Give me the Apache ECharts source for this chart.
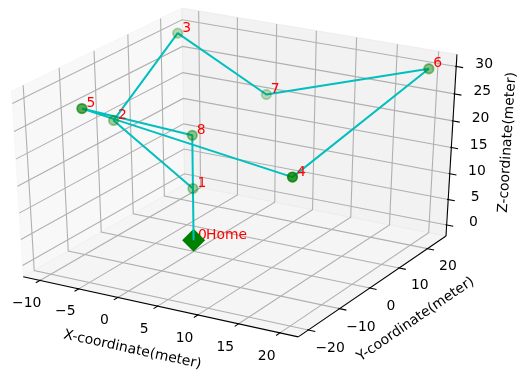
<!DOCTYPE html>
<html>
<head>
<meta charset="utf-8">
<script src="https://cdn.jsdelivr.net/npm/echarts@6/dist/echarts.min.js"></script>
<style>
  html, body { margin: 0; padding: 0; background: #fff; }
  #chart { width: 523px; height: 372px; }
</style>
</head>
<body>
<div id="chart"></div>
<script>
// waypoints in meters, index 0 is Home
const pointNames = ['0', '1', '2', '3', '4', '5', '6', '7', '8'];
const xs = [0, 0, -10, -10, 20, -5, 20, 0, 0];
const ys = [0, 0, 0, 20, -20, -20, 23.5, 23.5, 0];
const zs = [0, 10, 20, 30, 25, 30, 30, 20, 20];
// flight order through the waypoints
const route = [0, 1, 2, 3, 7, 6, 4, 5, 8, 0];

const xTicks = [-10, -5, 0, 5, 10, 15, 20];
const yTicks = [-20, -10, 0, 10, 20];
const zTicks = [0, 5, 10, 15, 20, 25, 30];
const axisTitles = ['X-coordinate(meter)', 'Y-coordinate(meter)', 'Z-coordinate(meter)'];

// --- 3d view (matplotlib style: elev 30, azim -60, perspective) ---
const deg = Math.PI / 180;
const elev = 30 * deg, azim = -60 * deg, dist = 10;
const W = [Math.cos(elev) * Math.cos(azim), Math.cos(elev) * Math.sin(azim), Math.sin(elev)];
const cross = (a, b) => [a[1] * b[2] - a[2] * b[1], a[2] * b[0] - a[0] * b[2], a[0] * b[1] - a[1] * b[0]];
const dot = (a, b) => a[0] * b[0] + a[1] * b[1] + a[2] * b[2];
let U = cross([0, 0, 1], W);
const ulen = Math.hypot(U[0], U[1], U[2]);
U = U.map(v => v / ulen);
const V = cross(W, U);

// axis limits = data range plus 5% margins
function padLimits(arr) {
  const lo = Math.min(...arr), hi = Math.max(...arr), m = (hi - lo) * 0.05;
  return [lo - m, hi + m];
}
const lims = [padLimits(xs), padLimits(ys), padLimits(zs)];
const qOf = (axis, v) => (v - lims[axis][0]) / (lims[axis][1] - lims[axis][0]) - 0.5;
const toQ = p => p.map((v, i) => qOf(i, v));
function projQ(q) {
  const den = dist - dot(W, q);
  return [dot(U, q) / den, dot(V, q) / den];
}
const project = (x, y, z) => projQ(toQ([x, y, z]));
const depthOf = (x, y, z) => -dist / (dist - dot(W, toQ([x, y, z])));

// where the projected plane sits on the canvas
const VIEW = { ox: 238, sx: 3048, oy: 166.6, sy: 2035, w: 523, h: 372 };

const FONT = 'DejaVu Sans';
const FS = 13.9;
const P = 0.5 + 1 / 48; // panes sit slightly outside the limits

function txt(pt, text, rotation, color, align) {
  return {
    type: 'text', x: pt[0], y: pt[1], rotation: rotation || 0,
    style: { text, fill: color || '#000', fontSize: FS, fontFamily: FONT,
      align: align || 'center', verticalAlign: 'middle' }
  };
}

function buildBox(api) {
  const c = q => api.coord(projQ(q));
  const line = (pts, stroke, lw) => ({
    type: 'polyline', shape: { points: pts.map(c) },
    style: { stroke, lineWidth: lw, fill: null }
  });
  const out = [];
  // panes
  const panes = [
    [[[-P, -P, -P], [-P, P, -P], [-P, P, P], [-P, -P, P]], 'rgba(242,242,242,0.5)'],
    [[[-P, P, -P], [P, P, -P], [P, P, P], [-P, P, P]], 'rgba(230,230,230,0.5)'],
    [[[-P, -P, -P], [P, -P, -P], [P, P, -P], [-P, P, -P]], 'rgba(236,236,236,0.5)']
  ];
  panes.forEach(([pts, fill]) => {
    out.push({ type: 'polygon', shape: { points: pts.map(c) }, style: { fill, stroke: fill, lineWidth: 1 } });
  });
  // grid lines
  const gc = '#b0b0b0', gw = 1.1;
  xTicks.forEach(v => { const q = qOf(0, v); out.push(line([[q, -P, -P], [q, P, -P], [q, P, P]], gc, gw)); });
  yTicks.forEach(v => { const q = qOf(1, v); out.push(line([[P, q, -P], [-P, q, -P], [-P, q, P]], gc, gw)); });
  zTicks.forEach(v => { const q = qOf(2, v); out.push(line([[-P, -P, q], [-P, P, q], [P, P, q]], gc, gw)); });
  // axis lines
  const ax = [
    [[-P, -P, -P], [P, -P, -P]],
    [[P, -P, -P], [P, P, -P]],
    [[P, P, -P], [P, P, P]]
  ];
  ax.forEach(seg => out.push(line(seg, '#000', 1.1)));
  // ticks and tick labels
  const tOut = 0.3 / 12, tIn = 0.05 / 12;
  const dx = 0.085, dy = 0.08, dz = 0.068;
  xTicks.forEach(v => {
    const q = qOf(0, v);
    out.push(line([[q, -P - tOut, -P], [q, -P + tIn, -P]], '#000', 1.1));
    out.push(txt(c([q, -P - dx, -P - dx]), v < 0 ? '\u2212' + (-v) : String(v)));
  });
  yTicks.forEach(v => {
    const q = qOf(1, v);
    out.push(line([[P + tOut, q, -P], [P - tIn, q, -P]], '#000', 1.1));
    out.push(txt(c([P + dy, q, -P - dy]), v < 0 ? '\u2212' + (-v) : String(v)));
  });
  zTicks.forEach(v => {
    const q = qOf(2, v);
    out.push(line([[P + tOut, P, q], [P - tIn, P, q]], '#000', 1.1));
    out.push(txt(c([P + dz, P + dz, q]), String(v)));
  });
  // axis titles, rotated along their edge
  const ang = (a, b) => { const p1 = c(a), p2 = c(b); return -Math.atan2(p2[1] - p1[1], p2[0] - p1[0]); };
  out.push(txt(c([0, -P - 0.16, -P - 0.16]), axisTitles[0], ang(ax[0][0], ax[0][1])));
  out.push(txt(c([P + 0.155, 0, -P - 0.155]), axisTitles[1], ang(ax[1][0], ax[1][1])));
  out.push(txt(c([P + 0.14, P + 0.14, 0]), axisTitles[2], ang(ax[2][0], ax[2][1])));
  return out;
}

// depth shading for the waypoint markers (nearest opaque, farthest 0.3)
const ptIdx = [1, 2, 3, 4, 5, 6, 7, 8];
const depths = ptIdx.map(i => depthOf(xs[i], ys[i], zs[i]));
const dMin = Math.min(...depths), dMax = Math.max(...depths);
const pointData = ptIdx.map((i, k) => {
  const a = (1 - 0.7 * (depths[k] - dMin) / (dMax - dMin)).toFixed(3);
  const col = 'rgba(0,128,0,' + a + ')';
  return { value: project(xs[i], ys[i], zs[i]), itemStyle: { color: col, borderColor: col, borderWidth: 1.8 } };
});
const routeData = route.map(i => project(xs[i], ys[i], zs[i]));
const homePos = project(xs[0], ys[0], zs[0]);

function labelSeries(name, z, items) {
  return {
    type: 'custom', name, z, silent: true, clip: false,
    data: items.map(it => it.pos),
    renderItem: (params, api) => {
      const it = items[params.dataIndex];
      const p = api.coord([api.value(0), api.value(1)]);
      return txt([p[0] + it.dx, p[1] - 5], it.text, 0, '#ff0000', 'left');
    }
  };
}

const chart = echarts.init(document.getElementById('chart'), null, { renderer: 'canvas' });
chart.setOption({
  animation: false,
  backgroundColor: '#fff',
  grid: { left: 0, right: 0, top: 0, bottom: 0 },
  xAxis: { type: 'value', show: false, min: -VIEW.ox / VIEW.sx, max: (VIEW.w - VIEW.ox) / VIEW.sx },
  yAxis: { type: 'value', show: false, min: (VIEW.oy - VIEW.h) / VIEW.sy, max: VIEW.oy / VIEW.sy },
  series: [
    { type: 'custom', name: 'box', z: 0, silent: true, clip: false, data: [[0, 0]],
      renderItem: (params, api) => ({ type: 'group', children: buildBox(api) }) },
    labelSeries('homeIndex', 1, [{ pos: homePos, text: pointNames[0], dx: 4.5 }]),
    { type: 'scatter', name: 'Home', z: 2, symbol: 'diamond', symbolSize: 23, silent: true,
      itemStyle: { color: '#008000', opacity: 1 }, data: [homePos] },
    { type: 'line', name: 'route', z: 3, showSymbol: false, symbol: 'none', silent: true,
      lineStyle: { color: '#00bfbf', width: 2 }, data: routeData },
    { type: 'scatter', name: 'waypoints', z: 4, symbolSize: 9.5, silent: true, data: pointData },
    labelSeries('pointLabels', 5, ptIdx.map(i => ({ pos: project(xs[i], ys[i], zs[i]), text: pointNames[i], dx: 4.5 }))
      .concat([{ pos: homePos, text: 'Home', dx: 12.5 }]))
  ]
});
</script>
</body>
</html>
